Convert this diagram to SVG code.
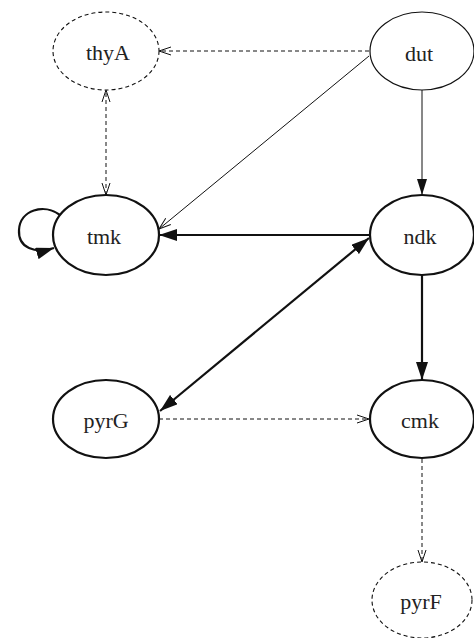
<svg xmlns="http://www.w3.org/2000/svg" width="474" height="638" viewBox="0 0 474 638">
<style>
text{font-family:"Liberation Serif",serif;font-size:22px;fill:#222;text-anchor:middle;dominant-baseline:central}
.n{fill:#fff;stroke:#111;stroke-width:1.2}
.nb{fill:#fff;stroke:#111;stroke-width:2.2}
.nd{fill:#fff;stroke:#111;stroke-width:1.1;stroke-dasharray:4,3}
.e{fill:none;stroke:#111;stroke-width:1}
.eb{fill:none;stroke:#111;stroke-width:2.2}
.ed{fill:none;stroke:#111;stroke-width:1;stroke-dasharray:4,3}
</style>
<defs>
<marker id="open" viewBox="0 0 12 10" refX="12" refY="5" markerWidth="12" markerHeight="10" markerUnits="userSpaceOnUse" orient="auto-start-reverse"><path d="M0,1 L12,5 L0,9" fill="none" stroke="#111" stroke-width="1"/></marker>
<marker id="fill" viewBox="0 0 16 10" refX="16" refY="5" markerWidth="16" markerHeight="10" markerUnits="userSpaceOnUse" orient="auto-start-reverse"><path d="M0,0 L16,5 L0,10 Z" fill="#111"/></marker>
<marker id="fillb" viewBox="0 0 18 12" refX="18" refY="6" markerWidth="18" markerHeight="12" markerUnits="userSpaceOnUse" orient="auto-start-reverse"><path d="M0,0 L18,6 L0,12 Z" fill="#111"/></marker>
</defs>
<g id="edges">
<path class="ed" d="M369,51 L159,51" marker-end="url(#open)"/>
<path class="ed" d="M106,195 L106,90" marker-start="url(#open)" marker-end="url(#open)"/>
<path class="e" d="M369,56 L159,229" marker-end="url(#open)"/>
<path class="e" d="M422,90 L422,195" marker-end="url(#fill)"/>
<path class="eb" d="M369,235 L159,235" marker-end="url(#fillb)"/>
<path class="eb" d="M369,238 L160,411" marker-start="url(#fillb)" marker-end="url(#fillb)"/>
<path class="eb" d="M422,275 L422,380" marker-end="url(#fillb)"/>
<path class="ed" d="M159,419 L369,419" marker-end="url(#open)"/>
<path class="ed" d="M422,459 L422,562" marker-end="url(#open)"/>
<path class="eb" d="M60,215 C44,203 20,210 19,230 C18,248 35,254 54,248" marker-end="url(#fillb)"/>
</g>
<g id="thyA"><ellipse class="nd" cx="106" cy="51" rx="53" ry="39"/><text x="108" y="52">thyA</text></g>
<g id="dut"><ellipse class="n" cx="422" cy="51" rx="52" ry="39"/><text x="419" y="53">dut</text></g>
<g id="tmk"><ellipse class="nb" cx="106" cy="235" rx="53" ry="40"/><text x="104" y="236">tmk</text></g>
<g id="ndk"><ellipse class="nb" cx="422" cy="235" rx="52" ry="40"/><text x="420" y="236">ndk</text></g>
<g id="pyrG"><ellipse class="nb" cx="106" cy="419" rx="53" ry="39"/><text x="106" y="420">pyrG</text></g>
<g id="cmk"><ellipse class="nb" cx="422" cy="419" rx="52" ry="39"/><text x="420" y="420">cmk</text></g>
<g id="pyrF"><ellipse class="nd" cx="422" cy="600" rx="50" ry="38"/><text x="421" y="601">pyrF</text></g>
</svg>
